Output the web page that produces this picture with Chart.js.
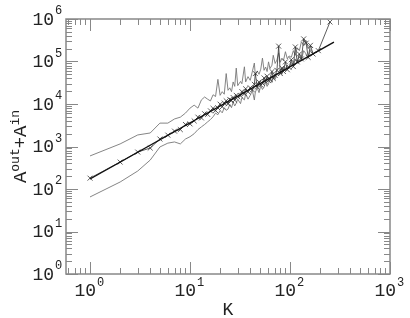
<!DOCTYPE html>
<html>
<head>
<meta charset="utf-8">
<script src="https://cdn.jsdelivr.net/npm/chart.js@4.4.1/dist/chart.umd.min.js"></script>
<style>
body{margin:0;background:#fff}
canvas{display:block}
</style>
</head>
<body>
<canvas id="chart" width="410" height="318"></canvas>
<script>
// degree K and the measured A^out+A^in (crosses)
const kValues = [1,2,3,4,5,6,7,8,9,10,11,12,13,14,15,16,17,18,19,20,21,22,23,24,25,26,27,28,29,30,
    32,33,35,36,38,40,42,44,45,47,49,51,53,55,57,59,61,63,66,68,71,74,77,80,83,86,90,94,98,
    103,108,113,118,124,130,137,145,152,160,170,192,251]
const aValues = [180,430,740,920,1500,1850,2300,2500,3300,3400,4000,4900,4700,5900,5700,6900,7900,7000,8100,9900,
    8600,10500,11900,10100,12800,12100,14200,12300,16000,14800,
    15600,19500,17400,22800,19300,24000,21500,29000,52000,25000,33000,28000,30500,41000,33000,45000,35500,38000,
    58000,40000,47000,62000,230000,52000,70000,58000,98000,64000,72000,
    110000,76000,220000,98000,150000,115000,340000,270000,125000,240000,150000,180000,850000]
// upper and lower grey curves (same K, up to 170)
const upperA = [600,1150,1870,2080,3550,3550,4450,4900,6100,8000,9400,8000,12500,14600,13000,11800,16500,15000,38000,16000,
    19500,17000,52000,21000,24000,19500,33000,26000,70000,27000,
    34000,30000,75000,33000,44000,36000,58000,92000,47000,60000,50000,66000,120000,62000,74000,58000,98000,68000,
    82000,140000,90000,108000,160000,96000,120000,105000,170000,115000,135000,
    125000,180000,140000,210000,180000,290000,240000,310000,200000,230000,210000]
const lowerA = [65,146,265,480,975,1200,1280,1150,1500,1700,2000,2500,2900,3300,3800,4300,5000,6100,5600,7000,
    6200,8200,7100,7600,9800,8200,11000,9000,10500,13000,
    10200,14000,12500,17500,13000,16000,21000,12400,19000,24000,18500,27000,22000,25000,33000,26000,30000,41000,
    32000,44000,38000,53000,46000,62000,50000,75000,60000,82000,70000,
    95000,80000,115000,100000,130000,110000,180000,150000,120000,190000,160000]
// power law fit
const fitK = [1, 275]
const fitA = [172, 286000]

const xExps = [0, 1, 2, 3]
const yExps = [0, 1, 2, 3, 4, 5, 6]

function points(xs, ys){
    let out = []
    for(let i = 0; i < ys.length; i++){
        out.push({x: xs[i], y: ys[i]})
    }
    return out
}

const FONT = "'Liberation Mono', 'DejaVu Sans Mono', monospace"

const axesPlugin = {
    id: "logAxes",
    afterDraw(chart){
        const ctx = chart.ctx
        const a = chart.chartArea
        const sx = chart.scales.x
        const sy = chart.scales.y
        ctx.save()
        ctx.strokeStyle = "#888"
        ctx.lineWidth = 1
        // x ticks, bottom and top
        for(let e = -1; e <= 3; e++){
            for(let m = 1; m <= 9; m++){
                let v = m * Math.pow(10, e)
                if(v < sx.min || v > sx.max) continue
                let px = Math.round(sx.getPixelForValue(v)) + 0.5
                let len = m === 1 ? 12 : 6
                ctx.beginPath()
                ctx.moveTo(px, a.bottom); ctx.lineTo(px, a.bottom - len)
                ctx.moveTo(px, a.top); ctx.lineTo(px, a.top + len)
                ctx.stroke()
            }
        }
        // y ticks, left and right
        for(let e = 0; e <= 6; e++){
            for(let m = 1; m <= 9; m++){
                let v = m * Math.pow(10, e)
                if(v < sy.min || v > sy.max) continue
                let py = Math.round(sy.getPixelForValue(v)) + 0.5
                let len = m === 1 ? 12 : 6
                ctx.beginPath()
                ctx.moveTo(a.left, py); ctx.lineTo(a.left + len, py)
                ctx.moveTo(a.right, py); ctx.lineTo(a.right - len, py)
                ctx.stroke()
            }
        }
        ctx.lineWidth = 1.5
        ctx.strokeRect(a.left, a.top, a.right - a.left, a.bottom - a.top)

        // tick labels
        ctx.fillStyle = "#222"
        ctx.textBaseline = "middle"
        xExps.forEach(e => {
            let px = sx.getPixelForValue(Math.pow(10, e))
            ctx.font = "18px " + FONT
            ctx.textAlign = "right"
            ctx.fillText("10", px + 6, a.bottom + 17)
            ctx.font = "12px " + FONT
            ctx.textAlign = "left"
            ctx.fillText(String(e), px + 7, a.bottom + 9)
        })
        yExps.forEach(e => {
            let py = sy.getPixelForValue(Math.pow(10, e))
            ctx.font = "18px " + FONT
            ctx.textAlign = "right"
            ctx.fillText("10", a.left - 12, py + 1)
            ctx.font = "12px " + FONT
            ctx.textAlign = "left"
            ctx.fillText(String(e), a.left - 11, py - 8)
        })

        // x title
        ctx.font = "18px " + FONT
        ctx.textAlign = "center"
        ctx.fillText("K", (a.left + a.right) / 2, a.bottom + 36)

        // y title with superscripts
        const parts = [["A", 0], ["out", 1], ["+", 0], ["A", 0], ["in", 1]]
        let total = 0
        parts.forEach(p => {
            ctx.font = (p[1] ? "13px " : "19px ") + FONT
            total += ctx.measureText(p[0]).width
        })
        ctx.translate(20, (a.top + a.bottom) / 2)
        ctx.rotate(-Math.PI / 2)
        ctx.textAlign = "left"
        ctx.textBaseline = "alphabetic"
        let cx = -total / 2
        parts.forEach(p => {
            ctx.font = (p[1] ? "13px " : "19px ") + FONT
            ctx.fillText(p[0], cx, p[1] ? -1 : 6)
            cx += ctx.measureText(p[0]).width
        })
        ctx.restore()
    }
}

const config = {
    type: "scatter",
    data: {
        datasets: [
            {
                label: "fit",
                data: points(fitK, fitA),
                showLine: true,
                borderColor: "#111",
                borderWidth: 1.4,
                pointRadius: 0
            },
            {
                label: "A",
                data: points(kValues, aValues),
                showLine: true,
                borderColor: "#333",
                borderWidth: 0.8,
                pointStyle: "crossRot",
                pointRadius: 3.5,
                pointBorderColor: "#333",
                pointBorderWidth: 0.8,
                backgroundColor: "#333"
            },
            {
                label: "upper",
                data: points(kValues, upperA),
                showLine: true,
                borderColor: "#777",
                borderWidth: 0.9,
                pointRadius: 0
            },
            {
                label: "lower",
                data: points(kValues, lowerA),
                showLine: true,
                borderColor: "#777",
                borderWidth: 0.9,
                pointRadius: 0
            }
        ]
    },
    options: {
        responsive: false,
        animation: false,
        layout: {padding: {left: 66, right: 20, top: 19, bottom: 44}},
        plugins: {legend: {display: false}, tooltip: {enabled: false}},
        elements: {line: {tension: 0}},
        scales: {
            x: {type: "logarithmic", min: 0.575, max: 1000, display: false},
            y: {type: "logarithmic", min: 1, max: 1000000, display: false}
        }
    },
    plugins: [axesPlugin]
}

const chart = new Chart(document.getElementById("chart"), config)
</script>
</body>
</html>
